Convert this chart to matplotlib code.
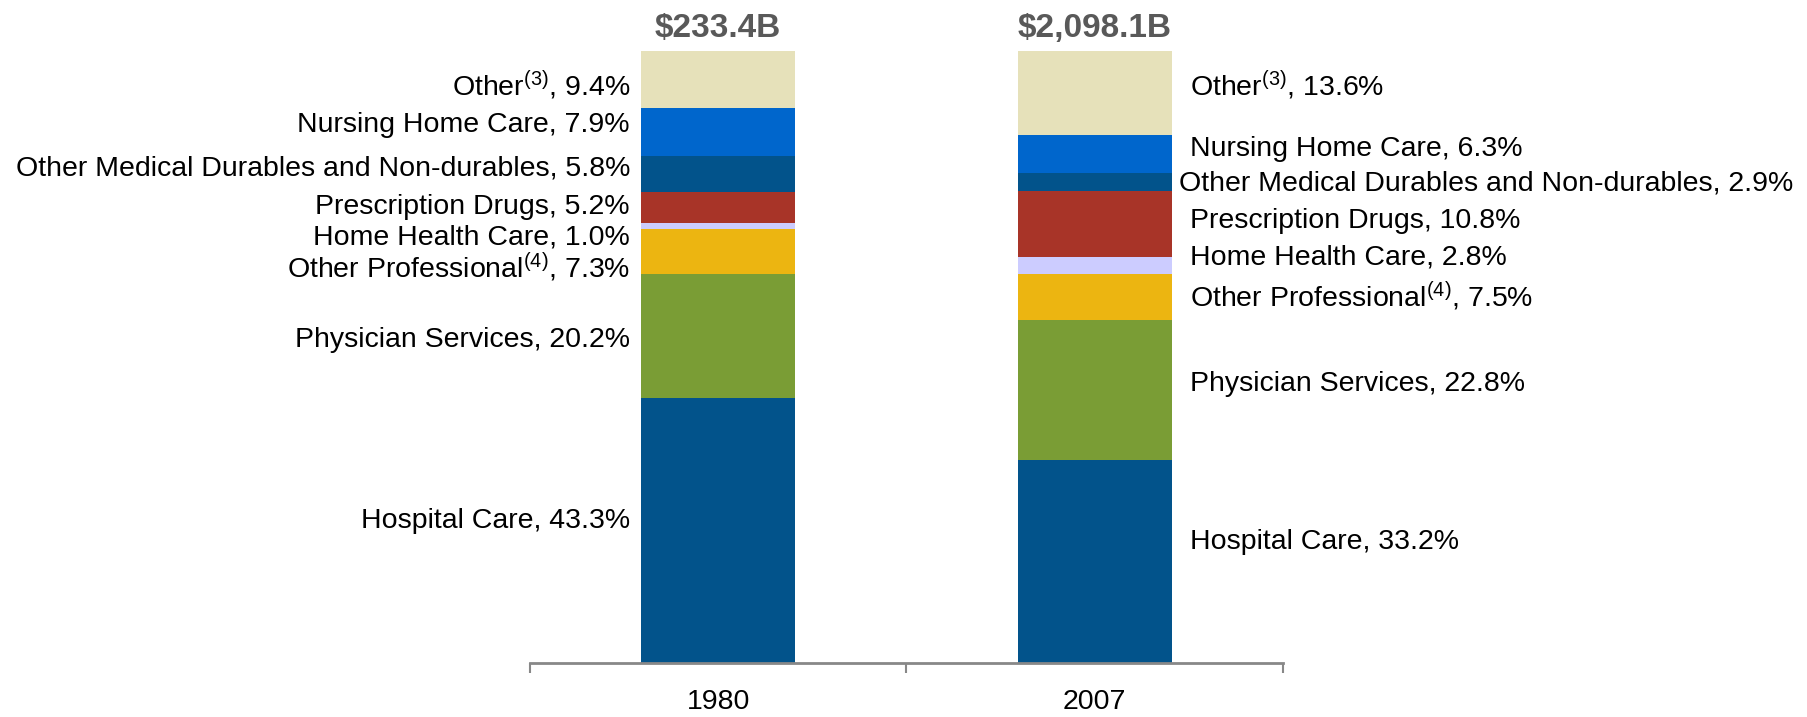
import matplotlib
matplotlib.use("Agg")
import matplotlib.pyplot as plt

FONT = "Liberation Sans"
plt.rcParams["font.family"] = [FONT, "DejaVu Sans"]
plt.rcParams["mathtext.fontset"] = "custom"
plt.rcParams["mathtext.rm"] = FONT
plt.rcParams["mathtext.it"] = FONT
plt.rcParams["mathtext.bf"] = FONT + ":bold"
plt.rcParams["mathtext.default"] = "regular"

# ---- data ----
years = ["1980", "2007"]
totals = ["$233.4B", "$2,098.1B"]
categories = ["Hospital Care", "Physician Services", "Other Professional$^{(4)}$",
              "Home Health Care", "Prescription Drugs",
              "Other Medical Durables and Non-durables", "Nursing Home Care",
              "Other$^{(3)}$"]
share_1980 = [43.3, 20.2, 7.3, 1.0, 5.2, 5.8, 7.9, 9.4]
share_2007 = [33.2, 22.8, 7.5, 2.8, 10.8, 2.9, 6.3, 13.6]

# ---- style ----
colors = ["#02538B", "#7A9D35", "#ECB511", "#CCCCFF", "#A83428",
          "#02538B", "#0066CC", "#E6E1BA"]
# manual label nudges (percentage points, + = up) as in the reference
nudge_1980 = [2.3, 0.0, -1.8, -1.2, 0.75, 1.5, 1.8, -0.3]
nudge_2007 = [3.8, 1.6, 0.9, 2.0, 1.1, 0.5, 1.5, 2.0]
xshift_2007 = [0, 0, 0, 0, 0, -8, 0, 0]

fig = plt.figure(figsize=(18.08, 7.17), dpi=100)
ax = fig.add_axes([0.2931, 0.0753, 0.4165, 0.854])

width = 0.41
xs = [0, 1]
series = [share_1980, share_2007]
for xi, vals in zip(xs, series):
    bottom = 0.0
    for v, c in zip(vals, colors):
        ax.bar(xi, v, width=width, bottom=bottom, color=c, linewidth=0)
        bottom += v

FS = 20.5
YOFF = -3
# labels for 1980 (left side, right aligned)
bottom = 0.0
for v, lab, nd in zip(share_1980, categories, nudge_1980):
    yc = bottom + v / 2 + nd
    ax.annotate(f"{lab}, {v:.1f}%", xy=(xs[0] - width / 2, yc),
                xytext=(-8, YOFF), textcoords="offset points",
                ha="right", va="center", fontsize=FS, annotation_clip=False)
    bottom += v
# labels for 2007 (right side, left aligned)
bottom = 0.0
for v, lab, nd, dx in zip(share_2007, categories, nudge_2007, xshift_2007):
    yc = bottom + v / 2 + nd
    ax.annotate(f"{lab}, {v:.1f}%", xy=(xs[1] + width / 2, yc),
                xytext=(13 + dx, YOFF), textcoords="offset points",
                ha="left", va="center", fontsize=FS, annotation_clip=False)
    bottom += v

for xi, t in zip(xs, totals):
    ax.text(xi, 103.6, t, ha="center", va="center", fontsize=24,
            fontweight="bold", color="#595959", clip_on=False)

ax.set_xlim(-0.5, 1.5)
ax.set_ylim(0, 100)
ax.set_xticks(xs)
ax.set_xticklabels(years, fontsize=FS)
ax.set_xticks([-0.5, 0.5, 1.5], minor=True)
ax.tick_params(axis="x", which="major", length=0, pad=19)
ax.tick_params(axis="x", which="minor", length=7, width=1.5, color="#888888")
ax.set_yticks([])
for s in ["top", "right", "left"]:
    ax.spines[s].set_visible(False)
ax.spines["bottom"].set_color("#888888")
ax.spines["bottom"].set_linewidth(2)

fig.savefig("out.png", dpi=100)
